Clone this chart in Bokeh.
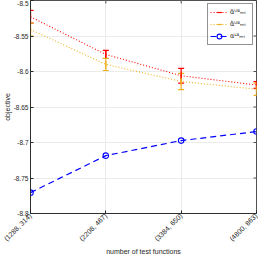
import math
from bokeh.plotting import figure
from bokeh.models import (Range1d, FixedTicker, Legend, LegendItem,
                          Whisker, ColumnDataSource, TeeHead)
from bokeh.embed import file_html
from bokeh.resources import INLINE

# ---- data ----
x_labels = ["(1288, 314)", "(2208, 467)", "(3384, 650)", "(4800, 863)"]
x_pos = [1, 2, 3, 4]
ub_tilde = [-8.523, -8.576, -8.606, -8.619]
ub_tilde_err = [0.009, 0.0057, 0.0105, 0.0048]
ub_hat = [-8.541, -8.590, -8.614, -8.625]
ub_hat_err = [0.009, 0.0086, 0.0115, 0.0085]
lb = [-8.7706, -8.7185, -8.6973, -8.6846]
y_ticks = [-8.8, -8.75, -8.7, -8.65, -8.6, -8.55, -8.5]
y_tick_labels = ["-8.8", "-8.75", "-8.7", "-8.65", "-8.6", "-8.55", "-8.5"]

RED = "#ff0000"
ORANGE = "#edb120"
BLUE = "#0000ff"
AX = "#262626"
FONT = "Liberation Sans"

p = figure(output_backend="svg", toolbar_location=None,
           x_range=Range1d(1, 4), y_range=Range1d(-8.8, -8.5),
           min_border_left=0, min_border_right=2, min_border_top=0, min_border_bottom=0)
p.frame_width = 226
p.frame_height = 213
p.outline_line_color = AX
p.outline_line_width = 0.8
p.background_fill_color = "white"
p.border_fill_color = "white"

def style_axis(ax):
    ax.axis_line_color = AX
    ax.axis_line_width = 0.8
    ax.major_tick_line_color = AX
    ax.major_tick_in = 3
    ax.major_tick_out = 0
    ax.minor_tick_line_color = None
    ax.major_label_text_font = FONT
    ax.major_label_text_font_size = "6.5px"
    ax.major_label_text_color = AX
    ax.major_label_standoff = 1
    ax.axis_label_text_font = FONT
    ax.axis_label_text_font_size = "7px"
    ax.axis_label_text_font_style = "normal"
    ax.axis_label_text_color = AX
    ax.axis_label_standoff = 0

xt = FixedTicker(ticks=x_pos)
yt = FixedTicker(ticks=y_ticks)
p.xaxis.ticker = xt
p.yaxis.ticker = yt
p.xaxis.major_label_overrides = {x: l for x, l in zip(x_pos, x_labels)}
p.yaxis.major_label_overrides = {t: l for t, l in zip(y_ticks, y_tick_labels)}
p.xaxis.major_label_orientation = math.pi / 4
p.xaxis.axis_label = "number of test functions"
p.yaxis.axis_label = "objective"
style_axis(p.xaxis[0])
style_axis(p.yaxis[0])
p.xaxis.major_label_text_font_size = "7px"
p.yaxis.major_label_standoff = 2

p.xgrid.ticker = xt
p.ygrid.ticker = yt
p.grid.grid_line_color = "#e6e6e6"
p.grid.grid_line_width = 0.8

# inside ticks on the right and top edges of the box
p.ray(x=[x_pos[-1]] * len(y_ticks), y=y_ticks, length=3, length_units="screen",
      angle=math.pi, line_color=AX, line_width=0.8)
p.ray(x=x_pos, y=[y_ticks[-1]] * len(x_pos), length=3, length_units="screen",
      angle=-math.pi / 2, line_color=AX, line_width=0.8)

s1 = ColumnDataSource(dict(x=x_pos, y=ub_tilde,
                           lo=[v - e for v, e in zip(ub_tilde, ub_tilde_err)],
                           hi=[v + e for v, e in zip(ub_tilde, ub_tilde_err)]))
s2 = ColumnDataSource(dict(x=x_pos, y=ub_hat,
                           lo=[v - e for v, e in zip(ub_hat, ub_hat_err)],
                           hi=[v + e for v, e in zip(ub_hat, ub_hat_err)]))
s3 = ColumnDataSource(dict(x=x_pos, y=lb))

l1 = p.line("x", "y", source=s1, line_color=RED, line_dash="1 2", line_width=1.1)
l2 = p.line("x", "y", source=s2, line_color=ORANGE, line_dash="1 2", line_width=1.1)
for src, col in ((s1, RED), (s2, ORANGE)):
    w = Whisker(source=src, base="x", upper="hi", lower="lo", line_color=col, line_width=1.2,
                upper_head=TeeHead(size=6, line_color=col, line_width=1.2),
                lower_head=TeeHead(size=6, line_color=col, line_width=1.2))
    p.add_layout(w)
m1 = p.scatter("x", "y", source=s1, marker="dash", angle=math.pi / 2, size=7,
               line_color=RED, line_width=1.2)
m2 = p.scatter("x", "y", source=s2, marker="dash", angle=math.pi / 2, size=7,
               line_color=ORANGE, line_width=1.2)

l3 = p.line("x", "y", source=s3, line_color=BLUE, line_dash="6 4", line_width=1.2)
m3 = p.scatter("x", "y", source=s3, marker="circle", size=5.5, fill_color=None,
               line_color=BLUE, line_width=1.1)

legend = Legend(items=[
    LegendItem(label="α̃ᵁᴮₘₜ", renderers=[l1, m1]),
    LegendItem(label="α̂ᵁᴮₘₜ", renderers=[l2, m2]),
    LegendItem(label="αᴸᴮₘₜ", renderers=[l3, m3]),
], location="top_right")
legend.label_text_font = "DejaVu Sans"
legend.label_text_font_size = "6.5px"
legend.label_text_color = AX
legend.glyph_width = 18
legend.glyph_height = 12
legend.label_height = 12
legend.label_standoff = 2
legend.spacing = 0
legend.padding = 2
legend.margin = 3
legend.border_line_color = AX
legend.border_line_width = 0.8
legend.background_fill_alpha = 1
p.add_layout(legend)

open("out.html", "w").write(file_html(p, INLINE))
